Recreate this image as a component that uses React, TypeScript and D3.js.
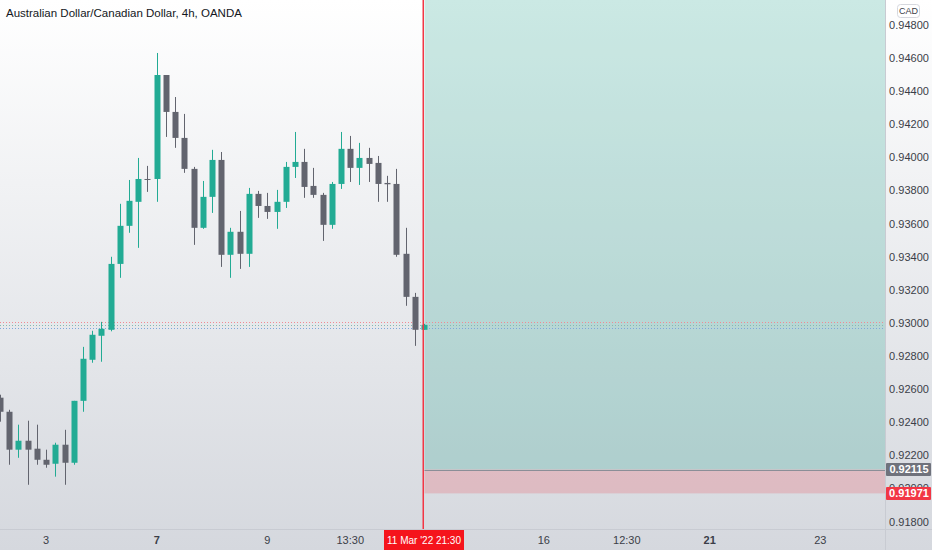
import React, { useEffect, useRef } from 'react';
import * as d3 from 'd3';

// chart header
const title = 'Australian Dollar/Canadian Dollar, 4h, OANDA';
const currency = 'CAD';

// 4h candles (oldest first)
const opens = [0.92549, 0.92464, 0.92235, 0.92289, 0.92241, 0.92174, 0.9215, 0.92265, 0.92156, 0.9253, 0.92778, 0.92923, 0.92959, 0.93357, 0.93587, 0.93732, 0.9387, 0.9387, 0.94498, 0.94275, 0.94118, 0.93931, 0.93575, 0.93762, 0.93985, 0.93412, 0.93551, 0.93418, 0.9378, 0.93707, 0.93671, 0.93732, 0.93943, 0.93973, 0.93828, 0.93774, 0.93593, 0.9384, 0.94052, 0.93937, 0.93997, 0.93967, 0.93846, 0.9384, 0.93418, 0.93158, 0.92959];
const highs = [0.92567, 0.92476, 0.92386, 0.9241, 0.92386, 0.92235, 0.92277, 0.92355, 0.9253, 0.92856, 0.92953, 0.93007, 0.934, 0.9372, 0.93864, 0.93997, 0.93949, 0.94631, 0.94498, 0.94365, 0.94263, 0.93943, 0.93858, 0.94046, 0.94033, 0.93575, 0.93677, 0.93816, 0.93798, 0.93786, 0.93804, 0.93973, 0.94154, 0.94052, 0.93937, 0.93786, 0.93852, 0.94154, 0.9413, 0.94088, 0.94058, 0.94009, 0.93889, 0.93931, 0.93575, 0.93182, 0.92995];
const lows = [0.92404, 0.92144, 0.92186, 0.92023, 0.92144, 0.92126, 0.92072, 0.92023, 0.92144, 0.92464, 0.9276, 0.92766, 0.9295, 0.93273, 0.93545, 0.93454, 0.93792, 0.93732, 0.94124, 0.94058, 0.93907, 0.93472, 0.93569, 0.93665, 0.93339, 0.93273, 0.93327, 0.93339, 0.93635, 0.93629, 0.93569, 0.93695, 0.93876, 0.93756, 0.93756, 0.93496, 0.93569, 0.9381, 0.93852, 0.93834, 0.93852, 0.93732, 0.93732, 0.934, 0.93104, 0.92862, 0.92959];
const closes = [0.92464, 0.92235, 0.92289, 0.92235, 0.92174, 0.92144, 0.92265, 0.92156, 0.9253, 0.92784, 0.92929, 0.92965, 0.93357, 0.93587, 0.93738, 0.9387, 0.93864, 0.94498, 0.94275, 0.94118, 0.93931, 0.93575, 0.93762, 0.93985, 0.93412, 0.93551, 0.93418, 0.9378, 0.93707, 0.93671, 0.93732, 0.93943, 0.93973, 0.93822, 0.93774, 0.93593, 0.9384, 0.94052, 0.93937, 0.93997, 0.93961, 0.9384, 0.93838, 0.93412, 0.93158, 0.92959, 0.92989];

// axes
const priceTicks = [0.948, 0.946, 0.944, 0.942, 0.94, 0.938, 0.936, 0.934, 0.932, 0.93, 0.928, 0.926, 0.924, 0.922, 0.92, 0.918];
const timeTickIndex = [5, 17, 29, 38, 59, 68, 77, 89];
const timeTickLabels = ['3', '7', '9', '13:30', '16', '12:30', '21', '23'];
const timeTickBold = [false, true, false, false, false, false, true, false];

// crosshair + long position tool
const cursorIndex = 46;
const cursorDate = "11 Mar '22";
const cursorTime = '21:30';
const targetPrice = 0.95;
const entryPrice = 0.92115;
const stopPrice = 0.91971;

// bid / ask / last dotted price lines
const priceLines = [0.93007, 0.92989, 0.92971];
const priceLineColors = ['#f08a93', '#86b9b1', '#7ea6dd'];

const W = 932;
const H = 550;
const plotRight = 885;
const plotBottom = 529;

const App: React.FC = () => {
  const svgRef = useRef<SVGSVGElement>(null);

  useEffect(() => {
    document.body.style.margin = '0';
    const svg = d3.select(svgRef.current);
    svg.selectAll('*').remove();

    const font = '"Liberation Sans", Arial, sans-serif';
    const up = '#22ab94';
    const down = '#62646e';

    const x = d3.scaleLinear().domain([0, 46]).range([0, 424]);
    const y = d3.scaleLinear().domain([0.918, 0.948]).range([521.7, 25]);

    // background gradient
    const defs = svg.append('defs');
    const grad = defs.append('linearGradient').attr('id', 'bg').attr('x1', 0).attr('y1', 0).attr('x2', 0).attr('y2', 1);
    grad.append('stop').attr('offset', '0%').attr('stop-color', '#ffffff');
    grad.append('stop').attr('offset', '100%').attr('stop-color', '#d5d8de');
    defs.append('clipPath').attr('id', 'plot').append('rect')
      .attr('x', 0).attr('y', 0).attr('width', plotRight).attr('height', plotBottom);
    // the 0.92000 label only peeks out above the stop label
    defs.append('clipPath').attr('id', 'peek').append('rect')
      .attr('x', plotRight).attr('y', 0).attr('width', W - plotRight).attr('height', y(stopPrice) - 6.5);

    svg.append('rect').attr('width', W).attr('height', H).attr('fill', 'url(#bg)');

    const plot = svg.append('g').attr('clip-path', 'url(#plot)');

    // position tool zones
    const zoneX = x(cursorIndex) + 0.5;
    plot.append('rect')
      .attr('x', zoneX).attr('y', y(targetPrice))
      .attr('width', plotRight - zoneX).attr('height', y(entryPrice) - y(targetPrice))
      .attr('fill', 'rgba(8,153,129,0.21)');
    plot.append('rect')
      .attr('x', zoneX).attr('y', y(entryPrice))
      .attr('width', plotRight - zoneX).attr('height', y(stopPrice) - y(entryPrice))
      .attr('fill', 'rgba(242,54,69,0.2)');
    plot.append('line')
      .attr('x1', zoneX).attr('x2', plotRight)
      .attr('y1', Math.round(y(entryPrice)) + 0.5).attr('y2', Math.round(y(entryPrice)) + 0.5)
      .attr('stroke', '#8b8e97').attr('stroke-width', 1);

    // dotted price lines
    plot.selectAll('.pl')
      .data(priceLines)
      .enter()
      .append('line')
      .attr('x1', 0).attr('x2', plotRight)
      .attr('y1', d => Math.round(y(d)) + 0.5).attr('y2', d => Math.round(y(d)) + 0.5)
      .attr('stroke', (d, i) => priceLineColors[i])
      .attr('stroke-dasharray', '1,2');

    // candles
    const idx = d3.range(opens.length);
    const bodyW = 6;
    plot.selectAll('.wick')
      .data(idx)
      .enter()
      .append('line')
      .attr('x1', i => Math.round(x(i)) + 0.5).attr('x2', i => Math.round(x(i)) + 0.5)
      .attr('y1', i => y(highs[i])).attr('y2', i => y(lows[i]))
      .attr('stroke', i => (closes[i] >= opens[i] ? up : down))
      .attr('stroke-width', 1);
    plot.selectAll('.body')
      .data(idx)
      .enter()
      .append('rect')
      .attr('x', i => Math.round(x(i)) + 0.5 - bodyW / 2)
      .attr('y', i => y(Math.max(opens[i], closes[i])))
      .attr('width', bodyW)
      .attr('height', i => Math.max(1, Math.abs(y(opens[i]) - y(closes[i]))))
      .attr('fill', i => (closes[i] >= opens[i] ? up : down));

    // crosshair vertical line
    svg.append('rect')
      .attr('x', Math.round(x(cursorIndex)) - 1.5).attr('y', 0)
      .attr('width', 1.5).attr('height', plotBottom)
      .attr('fill', '#f23645');

    // title
    svg.append('text')
      .attr('x', 6).attr('y', 17)
      .attr('font-family', font).attr('font-size', 11.5)
      .attr('fill', '#131722')
      .text(title);

    // axis separators
    svg.append('line')
      .attr('x1', plotRight + 0.5).attr('x2', plotRight + 0.5).attr('y1', 0).attr('y2', H)
      .attr('stroke', '#c8cbd2');
    svg.append('line')
      .attr('x1', 0).attr('x2', W).attr('y1', plotBottom + 0.5).attr('y2', plotBottom + 0.5)
      .attr('stroke', '#c8cbd2');

    // price axis
    const axisX = (plotRight + W) / 2 + 0.5;
    svg.selectAll('.ptick')
      .data(priceTicks)
      .enter()
      .append('text')
      .attr('x', axisX).attr('y', d => y(d))
      .attr('dy', '0.35em')
      .attr('text-anchor', 'middle')
      .attr('font-family', font).attr('font-size', 11)
      .attr('fill', '#3b3e48')
      .attr('clip-path', d => (Math.abs(y(d) - y(stopPrice)) < 12 ? 'url(#peek)' : null))
      .text(d => d.toFixed(5));

    // currency badge
    svg.append('rect')
      .attr('x', 897.5).attr('y', 4.5).attr('width', 22).attr('height', 13).attr('rx', 3)
      .attr('fill', '#ffffff').attr('stroke', '#d6d8de');
    svg.append('text')
      .attr('x', 908.5).attr('y', 11).attr('dy', '0.35em')
      .attr('text-anchor', 'middle')
      .attr('font-family', font).attr('font-size', 9)
      .attr('fill', '#3b3e48')
      .text(currency);

    // entry / stop labels
    const labels = [
      { p: entryPrice, c: '#6f727c' },
      { p: stopPrice, c: '#f23645' },
    ];
    labels.forEach(l => {
      svg.append('rect')
        .attr('x', plotRight + 1).attr('y', y(l.p) - 6.5)
        .attr('width', 45).attr('height', 13).attr('rx', 1)
        .attr('fill', l.c);
      svg.append('text')
        .attr('x', axisX).attr('y', y(l.p)).attr('dy', '0.35em')
        .attr('text-anchor', 'middle')
        .attr('font-family', font).attr('font-size', 11).attr('font-weight', 'bold')
        .attr('fill', '#ffffff')
        .text(l.p.toFixed(5));
    });

    // time axis
    svg.selectAll('.ttick')
      .data(timeTickIndex)
      .enter()
      .append('text')
      .attr('x', i => x(i)).attr('y', 540).attr('dy', '0.35em')
      .attr('text-anchor', 'middle')
      .attr('font-family', font).attr('font-size', 11)
      .attr('font-weight', (d, k) => (timeTickBold[k] ? 'bold' : 'normal'))
      .attr('fill', '#3b3e48')
      .text((d, k) => timeTickLabels[k]);

    // crosshair date label
    const cx = x(cursorIndex);
    svg.append('rect')
      .attr('x', cx - 40).attr('y', plotBottom + 1).attr('width', 80).attr('height', H - plotBottom - 1)
      .attr('fill', '#f5141c');
    svg.append('text')
      .attr('x', cx - 37).attr('y', 540).attr('dy', '0.35em')
      .attr('font-family', font).attr('font-size', 10)
      .attr('fill', '#ffffff')
      .text(cursorDate);
    svg.append('text')
      .attr('x', cx + 37).attr('y', 540).attr('dy', '0.35em')
      .attr('text-anchor', 'end')
      .attr('font-family', font).attr('font-size', 10)
      .attr('fill', '#ffffff')
      .text(cursorTime);
  }, []);

  return (
    <div>
      <svg ref={svgRef} width={W} height={H} style={{ display: 'block' }}></svg>
    </div>
  );
};

export default App;
